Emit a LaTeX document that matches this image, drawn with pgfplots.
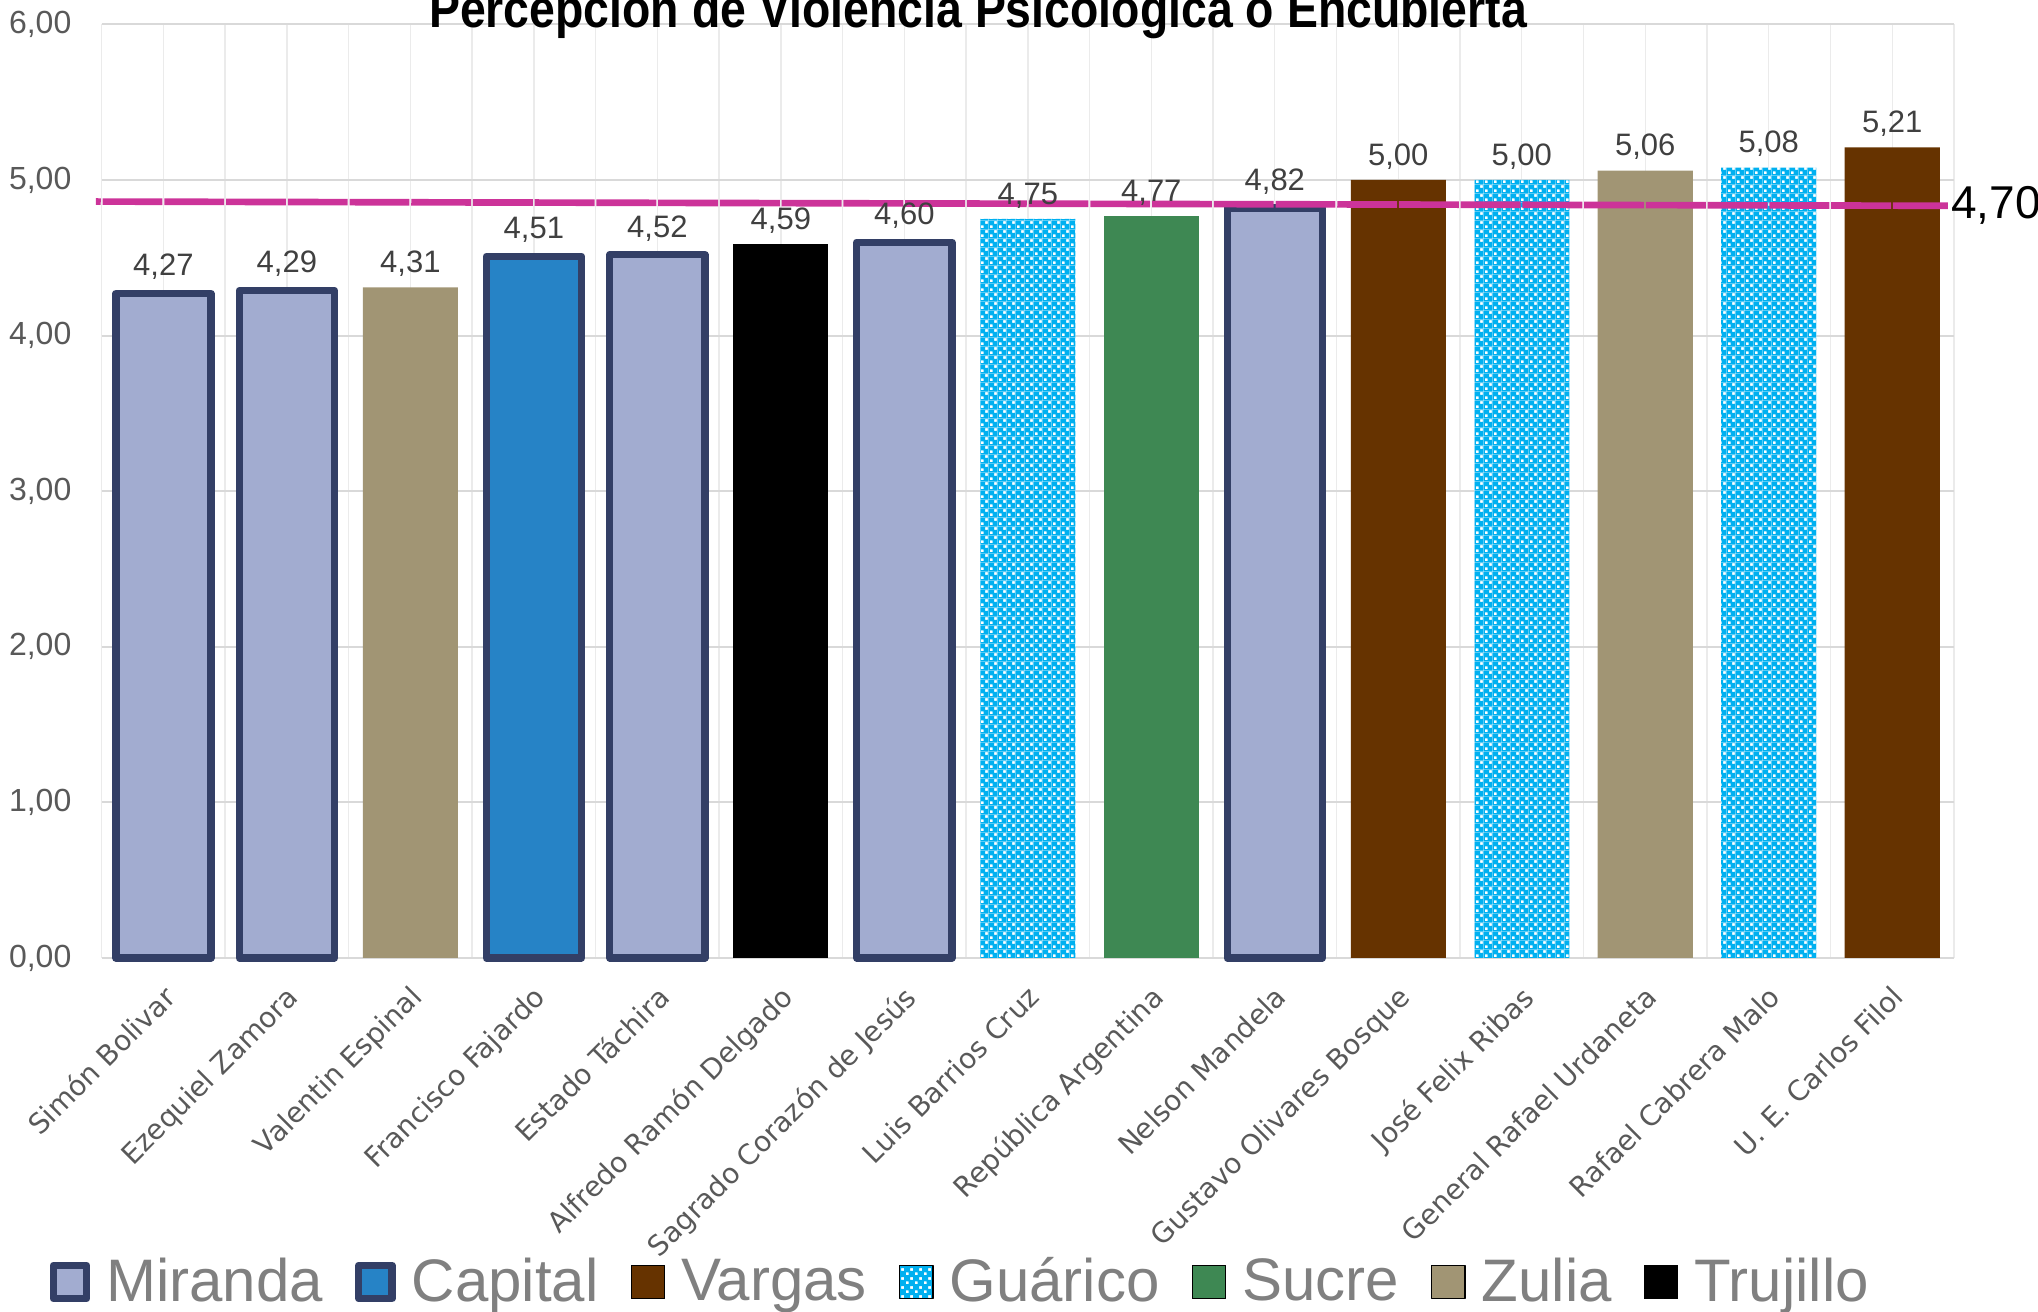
\documentclass[border=0pt]{standalone}
\usepackage{pgfplots}
\pgfplotsset{compat=1.18}
\usetikzlibrary{patterns}
\usepackage{fontspec}
\setmainfont{Liberation Sans}
\newfontfamily\catfont{DejaVu Sans}
\newfontfamily\titlefont{Liberation Sans}[FakeStretch=0.87]

\definecolor{mirF}{RGB}{162,172,208}
\definecolor{bord}{RGB}{51,63,102}
\definecolor{capF}{RGB}{38,131,198}
\definecolor{varF}{RGB}{102,51,0}
\definecolor{guaF}{RGB}{0,176,240}
\definecolor{sucF}{RGB}{62,136,83}
\definecolor{zulF}{RGB}{161,149,116}
\definecolor{avgC}{RGB}{204,51,153}
\definecolor{gridH}{RGB}{217,217,217}
\definecolor{gridV}{RGB}{235,235,235}
\definecolor{tickC}{RGB}{89,89,89}
\definecolor{lblC}{RGB}{64,64,64}
\definecolor{legC}{RGB}{128,128,128}

% checker-like pattern: cyan everywhere except two white squares per tile
\pgfdeclarepatternformonly{guacheck}{\pgfqpoint{0pt}{0pt}}{\pgfqpoint{2.8pt}{2.8pt}}{\pgfqpoint{2.8pt}{2.8pt}}{%
 \pgfpathrectangle{\pgfqpoint{0pt}{0pt}}{\pgfqpoint{2.8pt}{0.25pt}}%
 \pgfpathrectangle{\pgfqpoint{0pt}{0.25pt}}{\pgfqpoint{0.25pt}{0.9pt}}%
 \pgfpathrectangle{\pgfqpoint{1.15pt}{0.25pt}}{\pgfqpoint{1.65pt}{0.9pt}}%
 \pgfpathrectangle{\pgfqpoint{0pt}{1.15pt}}{\pgfqpoint{2.8pt}{0.5pt}}%
 \pgfpathrectangle{\pgfqpoint{0pt}{1.65pt}}{\pgfqpoint{1.65pt}{0.9pt}}%
 \pgfpathrectangle{\pgfqpoint{2.55pt}{1.65pt}}{\pgfqpoint{0.25pt}{0.9pt}}%
 \pgfpathrectangle{\pgfqpoint{0pt}{2.55pt}}{\pgfqpoint{2.8pt}{0.25pt}}%
 \pgfusepath{fill}}

\begin{document}
\begin{tikzpicture}
\useasboundingbox (-30.5pt,-106.2pt) rectangle (580.9pt,287.4pt);
\begin{axis}[
  at={(0pt,0pt)}, anchor=south west,
  scale only axis, width=555.7pt, height=280.1pt,
  clip=false,
  xmin=-0.5, xmax=14.5, ymin=0, ymax=6,
  enlargelimits=false,
  ybar, bar width=0.77, bar shift=0pt,
  axis line style={draw=none},
  major tick length=0pt, minor tick length=0pt,
  xtick={0,...,14},
  minor xtick={-0.5,0.5,...,14.5},
  xticklabels={Simón Bolivar, Ezequiel Zamora, Valentin Espinal, Francisco Fajardo, Estado Táchira, Alfredo Ramón Delgado, Sagrado Corazón de Jesús, Luis Barrios Cruz, República Argentina, Nelson Mandela, Gustavo Olivares Bosque, José Felix Ribas, General Rafael Urdaneta, Rafael Cabrera Malo, U. E. Carlos Filol},
  xticklabel style={rotate=45, anchor=north east, inner sep=0pt, xshift=-5.7pt, yshift=-4.9pt, font=\catfont\fontsize{8.4}{10}\selectfont, text=tickC},
  ytick={0,...,6},
  /pgf/number format/assume math mode=true,
  yticklabel style={/pgf/number format/.cd, fixed, fixed zerofill, precision=2, use comma, /tikz/.cd, font=\fontsize{9.6}{11}\selectfont, text=tickC, inner sep=0pt, xshift=-8.9pt},
  xmajorgrids, xminorgrids, ymajorgrids,
  major x grid style={draw=gridV, line width=0.4pt},
  minor x grid style={draw=gridV, line width=0.4pt},
  major y grid style={draw=gridH, line width=0.6pt},
  nodes near coords={\pgfmathprintnumber[fixed,fixed zerofill,precision=2,use comma]{\pgfplotspointmeta}},
  every node near coord/.append style={font=\fontsize{9.3}{11}\selectfont, text=lblC, inner sep=0pt, anchor=south, yshift=3pt},
  title={Percepción de Violencia Psicológica o Encubierta},
  title style={at={(0.4731,1)}, anchor=base, yshift=-6.8pt, inner sep=0pt, font=\titlefont\bfseries\fontsize{16}{19}\selectfont},
  legend columns=7,
  legend style={draw=none, fill=none, at={(0.4630,-0.347)}, anchor=center, font=\fontsize{18}{21}\selectfont, text=legC, nodes={inner sep=0pt},
    /tikz/every odd column/.append style={column sep=4.8pt},
    /tikz/every even column/.append style={column sep=9.6pt}},
  legend image code/.code={\draw[#1, line join=round] (0pt,-5pt) rectangle (10pt,5pt);},
]
\addplot[fill=mirF, draw=bord, line width=2.2pt, line join=round] coordinates {(0,4.27) (1,4.29) (4,4.52) (6,4.60) (9,4.82)};
\addlegendentry{Miranda}
\addplot[fill=capF, draw=bord, line width=2.2pt, line join=round] coordinates {(3,4.51)};
\addlegendentry{Capital}
\addplot[fill=varF, draw=none] coordinates {(10,5.00) (14,5.21)};
\addlegendentry{Vargas}
\addplot[draw=none, preaction={fill=white}, pattern=guacheck, pattern color=guaF] coordinates {(7,4.75) (11,5.00) (13,5.08)};
\addlegendentry{Guárico}
\addplot[fill=sucF, draw=none] coordinates {(8,4.77)};
\addlegendentry{Sucre}
\addplot[fill=zulF, draw=none] coordinates {(2,4.31) (12,5.06)};
\addlegendentry{Zulia}
\addplot[fill=black, draw=none] coordinates {(5,4.59)};
\addlegendentry{Trujillo}
\addplot[sharp plot, draw=avgC, line width=2pt, dash pattern=on 17.97pt off 0.55pt, dash phase=16.54pt, nodes near coords={}, forget plot] coordinates {(-0.546,4.861) (14.45,4.834)}
  node[pos=1, anchor=west, inner sep=0pt, text=black, font=\fontsize{13.8}{16}\selectfont] {4,70};
\end{axis}
\end{tikzpicture}
\end{document}
